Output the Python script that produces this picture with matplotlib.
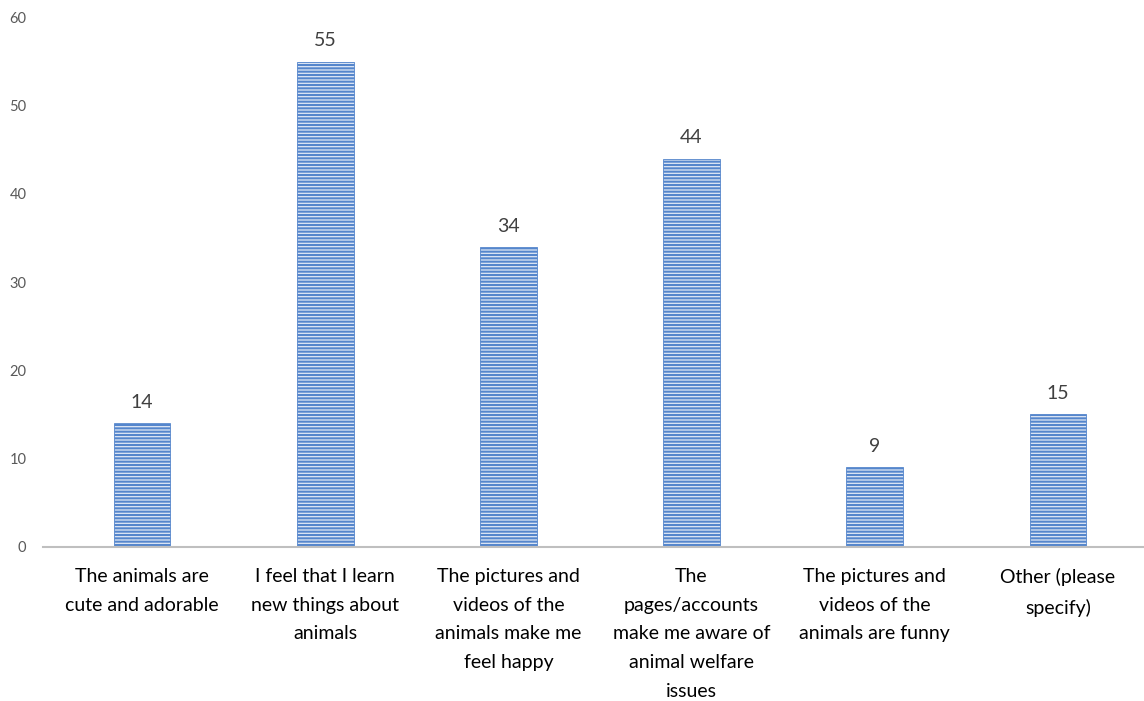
import numpy as np
import matplotlib.pyplot as plt

categories = [
    "The animals are\ncute and adorable",
    "I feel that I learn\nnew things about\nanimals",
    "The pictures and\nvideos of the\nanimals make me\nfeel happy",
    "The\npages/accounts\nmake me aware of\nanimal welfare\nissues",
    "The pictures and\nvideos of the\nanimals are funny",
    "Other (please\nspecify)",
]
counts = [14, 55, 34, 44, 9, 15]

plt.rcParams['font.family'] = ['Lato', 'DejaVu Sans']
plt.rcParams['hatch.linewidth'] = 1.5
plt.rcParams['hatch.color'] = '#5586cc'

fig = plt.figure(figsize=(11.44, 7.01), dpi=100)
ax = fig.add_axes([0.0376, 0.22, 0.9624, 0.755])

x = np.arange(len(categories))
ax.bar(x, counts, width=0.31, color='#dfe8f5', edgecolor='#5586cc',
       linewidth=0.6, hatch='-----')

# value labels above each bar
for xi, v in zip(x, counts):
    ax.text(xi, v + 1.4, str(v), ha='center', va='bottom', fontsize=14, color='#404040')

ax.set_xlim(-0.54, 5.47)
ax.set_ylim(0, 60)
ax.set_yticks(range(0, 61, 10))
ax.tick_params(axis='y', length=0, labelsize=10.5, labelcolor='#595959', pad=12)
ax.tick_params(axis='x', length=0, labelsize=14, pad=15)
ax.set_xticks(x)
ax.set_xticklabels(categories, linespacing=1.85)

for s in ['top', 'right', 'left']:
    ax.spines[s].set_visible(False)
ax.spines['bottom'].set_color('#bfbfbf')
ax.spines['bottom'].set_linewidth(1.5)

fig.savefig('out.png', dpi=100)
